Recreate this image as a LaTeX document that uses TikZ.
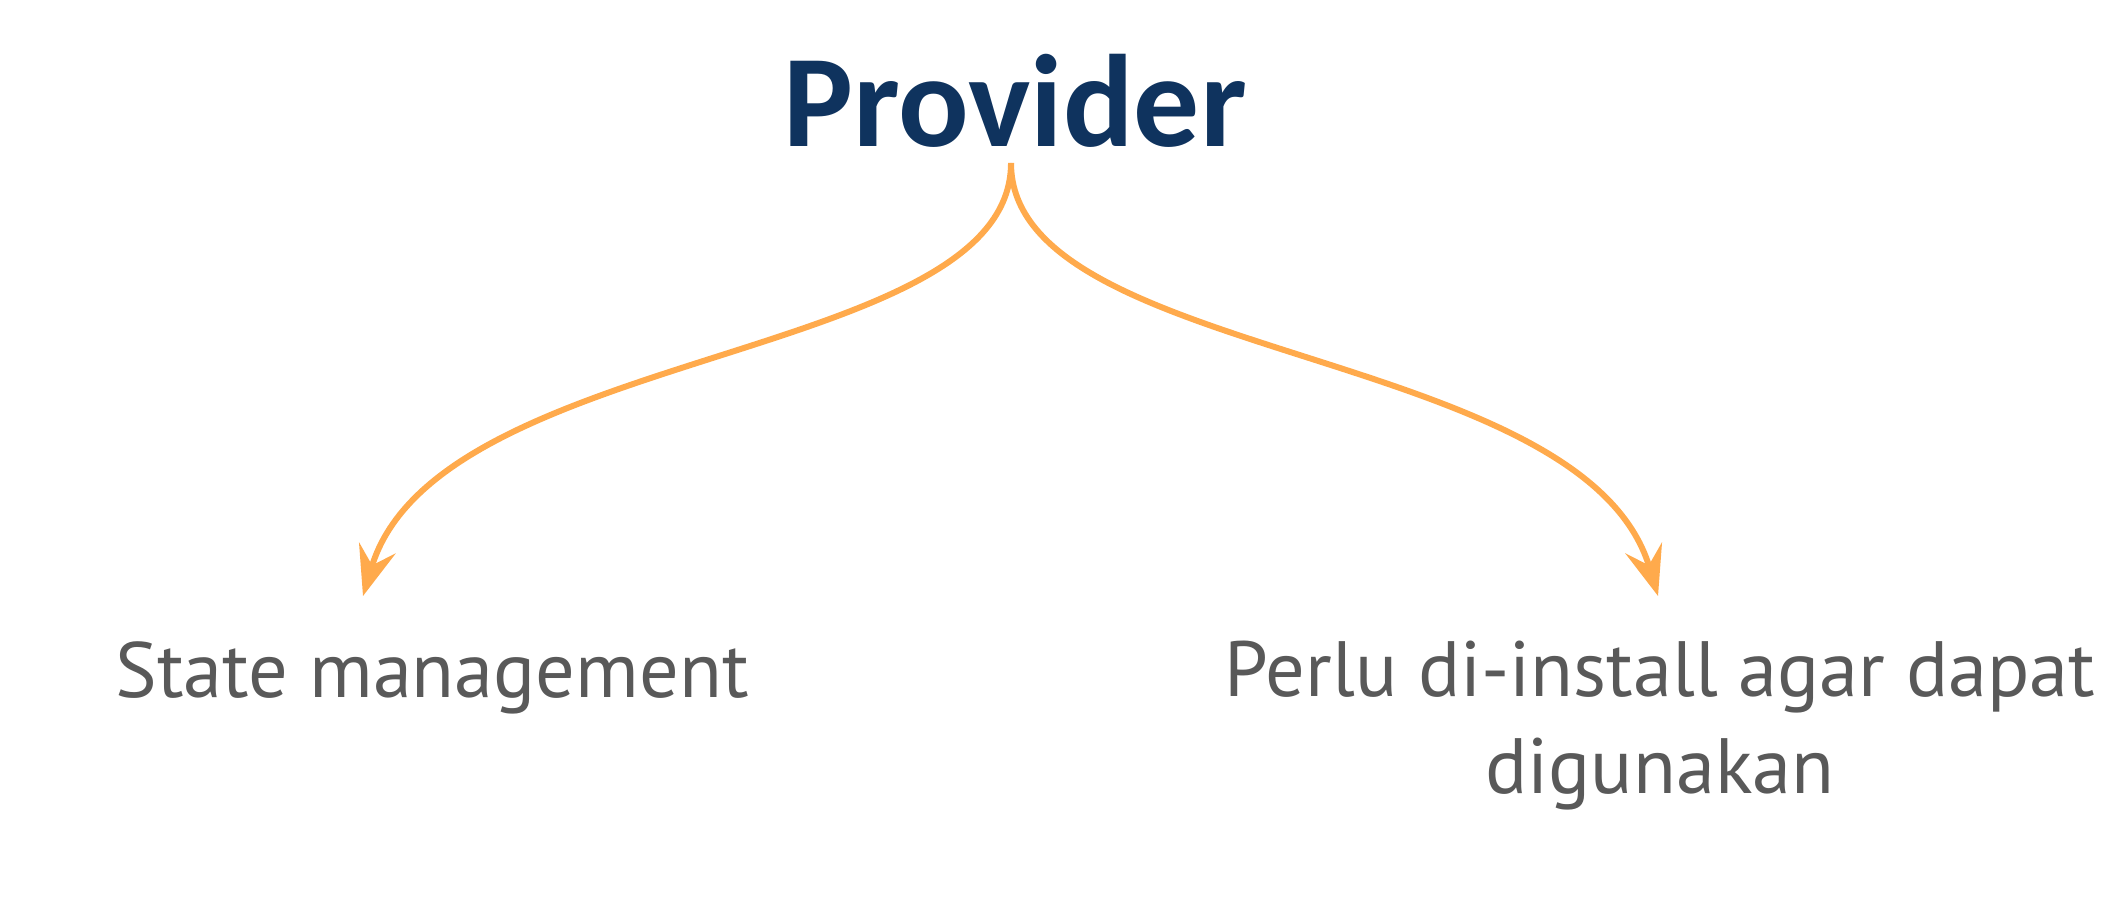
\documentclass[tikz,border=0pt]{standalone}
\usepackage{fontspec}
\usepackage{xcolor}
\usepackage{tikz}
\usetikzlibrary{arrows.meta}
\setmainfont{Carlito}
\newfontfamily\isifont{PT Sans}
\definecolor{biru}{HTML}{0F335E}
\definecolor{oranye}{HTML}{FFAA4C}
\definecolor{abu}{HTML}{595959}

\begin{document}
\begin{tikzpicture}[x=0.01cm, y=-0.01cm,
    panah/.style={draw=oranye, line width=1.7pt,
      -{Stealth[length=5mm, width=3.8mm, inset=1.8mm]}},
    isi/.style={font=\isifont\fontsize{22.3}{27.3}\selectfont, text=abu, inner sep=0pt}]
        \useasboundingbox (0,0) rectangle (2101,910);
        \node[font=\bfseries\fontsize{37.4}{40}\selectfont, text=biru, inner sep=0pt,
          anchor=base] (provider) at (1015,147) {Provider};
        \coordinate (akar) at (1011,163);
        \coordinate (kiri) at (363,596);
        \coordinate (kanan) at (1658,596);
        \draw[panah] (akar) .. controls (1011,363) and (438,345) .. (kiri);
        \draw[panah] (akar) .. controls (1011,363) and (1583,345) .. (kanan);
        \node[isi, anchor=base west] (state) at (115,697) {State management};
        \node[isi, anchor=base, align=center] (perlu) at (1660,793)
          {Perlu di-install agar dapat\\digunakan};
      \end{tikzpicture}
\end{document}
